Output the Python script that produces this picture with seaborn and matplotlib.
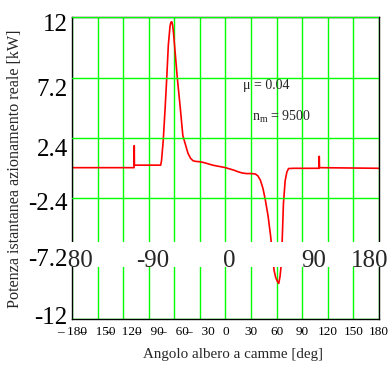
import matplotlib
matplotlib.use("Agg")
import matplotlib.pyplot as plt
import matplotlib.transforms as mtransforms
from matplotlib.patches import Rectangle
import seaborn as sns
import pandas as pd

# ---------------- data ----------------
angle = [-180, -107.2, -107.0, -106.8, -76, -75, -73, -71, -69, -67, -65, -64, -63, -62,
         -61, -59, -56.5, -53, -50, -47, -44, -41, -38, -35, -30, -25, -20, -15, -10, -5,
         0, 5, 10, 15, 20, 25, 30, 35, 38, 41, 44, 47, 50, 53, 55, 57, 59, 61, 62.5, 64,
         65.5, 66.5, 68, 70, 72, 74, 80, 109.8, 110.0, 110.3, 180]
power = [0.05, 0.05, 1.8, 0.25, 0.25, 0.6, 2.2, 4.5, 7.0, 9.8, 11.3, 11.6, 11.65, 11.4,
         10.8, 9.2, 7.2, 4.8, 2.6, 1.9, 1.2, 0.8, 0.6, 0.55, 0.52, 0.45, 0.35, 0.25, 0.18, 0.12,
         0.05, -0.05, -0.15, -0.28, -0.38, -0.42, -0.42, -0.45, -0.6, -0.95, -1.6, -2.6, -3.8, -5.4,
         -6.8, -8.1, -8.7, -9.0, -9.15, -8.6, -7.6, -5.8, -2.8, -1.0, -0.3, -0.02, 0.0, 0.0, 0.95,
         0.05, 0.0]

xticks = [-180, -150, -120, -90, -60, -30, 0, 30, 60, 90, 120, 150, 180]
xtick_labels = ["\u2013 180", "\u2013\u2002 150", "\u2013\u2002 120", "\u2013\u2002 90",
                "\u2013\u2002 60", "\u2013\u2002 30",
                "0", "30", "60", "90", "120", "150", "180"]
yticks = [-12, -7.2, -2.4, 2.4, 7.2, 12]
ytick_labels = ["-12", "-7.2", "-2.4", "2.4", "7.2", "12"]
big_labels = ["-180", "-90", "0", "90", "180"]
big_label_x = [-182, -85, 4.5, 103, 169]

df = pd.DataFrame({"angle": angle, "power": power})

# ---------------- style ----------------
sns.set_style("white")
plt.rcParams["font.family"] = ["Liberation Serif", "DejaVu Serif"]
plt.rcParams["mathtext.fontset"] = "custom"
plt.rcParams["mathtext.rm"] = "Liberation Serif"
plt.rcParams["mathtext.it"] = "Liberation Serif:italic"

fig = plt.figure(figsize=(3.9, 3.73), dpi=100)
ax = fig.add_axes([0.1846, 0.144, 0.787, 0.8096])

sns.lineplot(data=df, x="angle", y="power", color="#ff0000", linewidth=1.2, ax=ax,
             sort=False, estimator=None, zorder=2)

ax.set_xlim(-180, 180)
ax.set_ylim(-12, 12)
ax.set_xticks(xticks, xtick_labels)
ax.set_yticks(yticks, ytick_labels)
ax.tick_params(axis="x", length=0, pad=5, labelsize=9.5, colors="black")
ax.tick_params(axis="y", length=2, pad=1, labelsize=18, colors="black")

ax.grid(True, color="#00ff00", linewidth=1.0)
ax.set_axisbelow(True)
for s in ax.spines.values():
    s.set_visible(True)
    s.set_color("black")
    s.set_linewidth(1.0)

# y tick labels shifted vertically as in the reference (pixels, downward)
label_shift_px = {12: 5, 7.2: 10, 2.4: 9, -2.4: 3.5, -7.2: -1, -12: -4}
for val, lab in zip(yticks, ax.get_yticklabels()):
    off = mtransforms.ScaledTranslation(0, -label_shift_px[val] / 100, fig.dpi_scale_trans)
    lab.set_transform(lab.get_transform() + off)

# white band carrying the big angle labels
trans = mtransforms.blended_transform_factory(ax.transAxes, ax.transData)
band = Rectangle((-0.006, -7.88), 1.012, 2.06, transform=trans, facecolor="white",
                 edgecolor="none", zorder=2.6, clip_on=False)
ax.add_patch(band)
for lab, xv in zip(big_labels, big_label_x):
    ax.text(xv, -7.85, lab, ha="center", va="baseline", fontsize=18, zorder=3, clip_on=False)

# keep y tick labels on top, hide the gridline buried under the band
ax.yaxis.set_zorder(4)
fig.canvas.draw()
for val, gl in zip(ax.get_yticks(), ax.yaxis.get_gridlines()):
    if abs(val + 7.2) < 1e-6:
        gl.set_visible(False)
for val, lab in zip(ax.get_yticks(), ax.get_yticklabels()):
    if abs(val + 7.2) < 1e-6:
        lab.set_bbox(dict(facecolor="white", edgecolor="none", pad=0))

ax.text(20, 6.6, "\u03bc = 0.04", fontsize=10, ha="left", va="center")
ax.text(31, 4.1, "n$_{\\rm m}$ = 9500", fontsize=10, ha="left", va="center")

ax.set_xlabel("Angolo albero a camme [deg]", fontsize=10.8, labelpad=10)
ax.xaxis.set_label_coords(0.525, -0.095)
ax.set_ylabel("Potenza istantanea azionamento reale [kW]", fontsize=11.6, labelpad=4)

fig.savefig("out.png", dpi=100)
